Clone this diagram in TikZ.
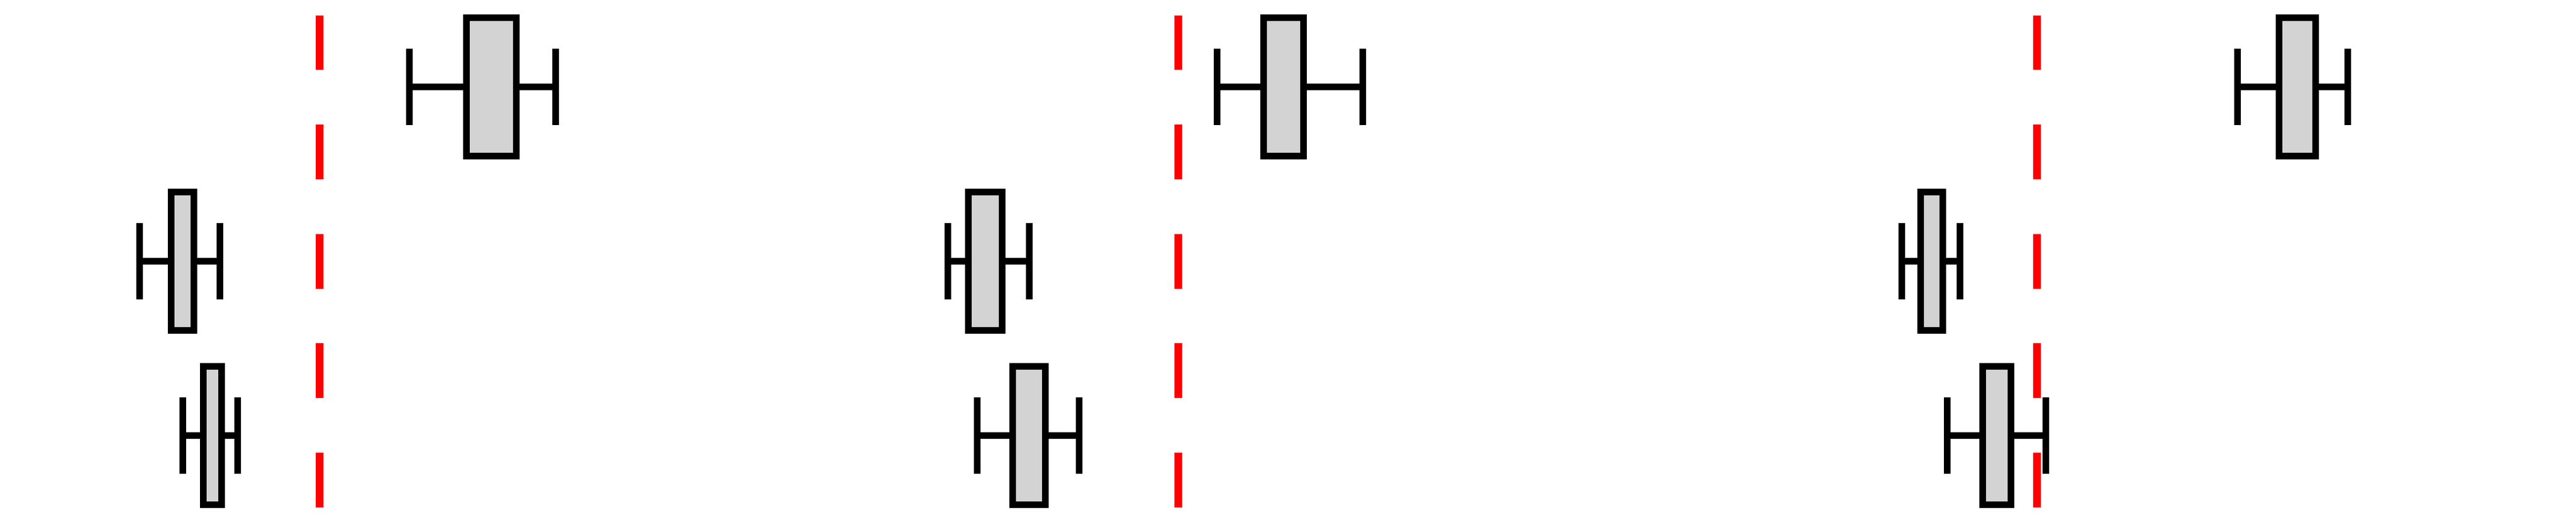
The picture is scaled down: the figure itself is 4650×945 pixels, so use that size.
\documentclass[tikz,border=0pt]{standalone}
\definecolor{boxgray}{RGB}{211,211,211}
\tikzset{
  wl/.style={line width=1.2pt, draw=black},
  boxst/.style={line width=1.2pt, draw=black, fill=boxgray},
  reddash/.style={draw=red, line width=1.4pt, dash pattern=on 9.88pt off 9.88pt},
  pics/bplot/.style args={#1/#2/#3/#4}{code={
    \draw[wl] (#1,-69) -- (#1,69);
    \draw[wl] (#4,-69) -- (#4,69);
    \draw[wl] (#1,0) -- (#2,0);
    \draw[wl] (#3,0) -- (#4,0);
    \draw[boxst] (#2,-125) rectangle (#3,125);
  }}
}
\begin{document}
\begin{tikzpicture}[x=0.1pt,y=-0.1pt]
\useasboundingbox (0,0) rectangle (4650,945);
% group 1
\pic at (0,157.5) {bplot=739.3/841.5/932.2/1002.5};
\pic at (0,472.5) {bplot=252.2/309.3/350.1/396.6};
\pic at (0,787.5) {bplot=330.3/366.7/400.1/428.5};
\coordinate (r1a) at (577,27.7);
\coordinate (r1b) at (577,917);
\draw[reddash] (r1a) -- (r1b);
% group 2
\pic at (0,157.5) {bplot=2196.5/2281.1/2353/2460};
\pic at (0,472.5) {bplot=1711.4/1747.8/1809.3/1857.5};
\pic at (0,787.5) {bplot=1764.2/1827.6/1886.8/1948.2};
\coordinate (r2a) at (2127,27.7);
\coordinate (r2b) at (2127,917);
\draw[reddash] (r2a) -- (r2b);
% group 3
\pic at (0,157.5) {bplot=4038.9/4114.4/4179.9/4237.5};
\pic at (0,472.5) {bplot=3433.3/3467.4/3507.1/3538.4};
\pic at (0,787.5) {bplot=3515.4/3578.8/3629.9/3693.4};
\coordinate (r3a) at (3677,27.7);
\coordinate (r3b) at (3677,917);
\draw[reddash] (r3a) -- (r3b);
\end{tikzpicture}
\end{document}
